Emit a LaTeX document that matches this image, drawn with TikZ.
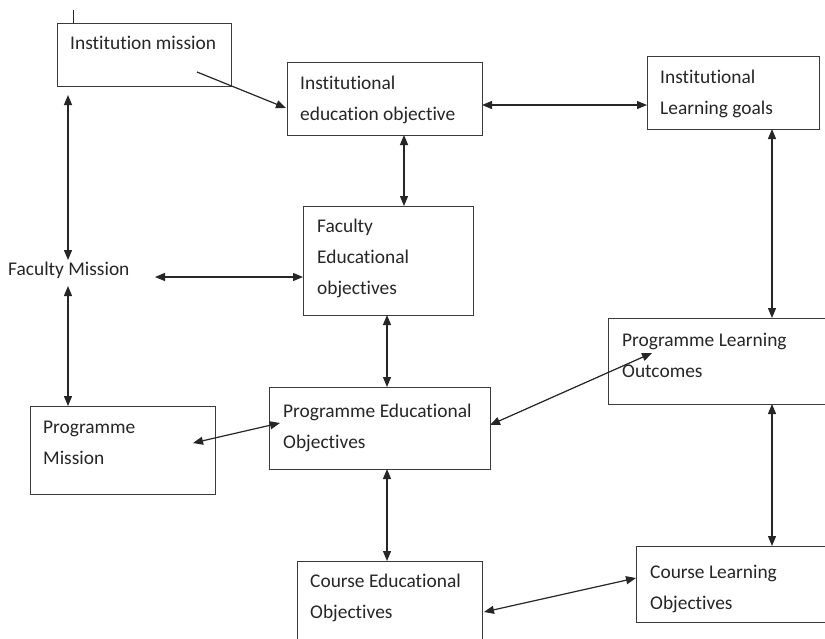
\documentclass[tikz,border=0pt]{standalone}
\usepackage{fontspec}
\setmainfont{Carlito}[Ligatures=NoCommon]
\usetikzlibrary{arrows.meta}
\definecolor{ink}{HTML}{262626}
\definecolor{edge}{HTML}{3A3A3A}
\begin{document}
\begin{tikzpicture}[x=1pt,y=-1pt,
  box/.style={draw=edge, line width=1.4pt, inner sep=0pt, anchor=north west},
  lbl/.style={anchor=base west, inner sep=0pt, align=left, text=ink, font=\fontsize{19.4}{31}\selectfont},
  link/.style={draw=ink, line width=1.2pt},
  both/.style={link, {Triangle[length=10pt,width=8pt]}-{Triangle[length=10pt,width=8pt]}},
  one/.style={link, -{Triangle[length=10pt,width=8pt]}}]
\clip (0,0) rectangle (825,638);
\fill[white] (0,0) rectangle (825,638);
% boxes
\node[box, minimum width=174pt, minimum height=63pt] (im) at (57,23) {};
\node[box, minimum width=195pt, minimum height=73pt] (iedo) at (287,62) {};
\node[box, minimum width=172pt, minimum height=73pt] (ilg) at (647,56) {};
\node[box, minimum width=170pt, minimum height=109pt] (fac) at (303,206) {};
\node[box, minimum width=230pt, minimum height=86pt] (plo) at (608,318) {};
\node[box, minimum width=185pt, minimum height=88pt] (pm) at (30,406) {};
\node[box, minimum width=221pt, minimum height=82pt] (peo) at (269,387) {};
\node[box, minimum width=185pt, minimum height=90pt] (ced) at (297,561) {};
\node[box, minimum width=200pt, minimum height=76pt] (clo) at (636,546) {};
% labels (anchored at the baseline of the last line)
\node[lbl] (tim) at (70,49) {Institution mission};
\node[lbl] (tiedo) at (300,120) {Institutional\\education objective};
\node[lbl] (tilg) at (660,114) {Institutional\\Learning goals};
\node[lbl] (tfac) at (317,294) {Faculty\\Educational\\objectives};
\node[lbl] (fm) at (8,275) {Faculty Mission};
\node[lbl] (tplo) at (622,377) {Programme Learning\\Outcomes};
\node[lbl] (tpm) at (43,464) {Programme\\Mission};
\node[lbl] (tpeo) at (283,448) {Programme Educational\\Objectives};
\node[lbl] (tced) at (310,618) {Course Educational\\Objectives};
\node[lbl] (tclo) at (650,609) {Course Learning\\Objectives};
% connector end points
\coordinate (tick1) at (73,10);
\coordinate (tick2) at (73,23);
\coordinate (a1s) at (197,72);   \coordinate (a1e) at (286,108);
\coordinate (a2s) at (482,105);  \coordinate (a2e) at (647,105);
\coordinate (a3s) at (404,135);  \coordinate (a3e) at (404,206);
\coordinate (a4s) at (772,129);  \coordinate (a4e) at (772,318);
\coordinate (a5s) at (68,95);    \coordinate (a5e) at (68,260);
\coordinate (a6s) at (68,286);   \coordinate (a6e) at (68,406);
\coordinate (a7s) at (155,277);  \coordinate (a7e) at (303,277);
\coordinate (a8s) at (387,315);  \coordinate (a8e) at (387,387);
\coordinate (a9s) at (193,443);  \coordinate (a9e) at (280,423);
\coordinate (a10s) at (490,425); \coordinate (a10e) at (652,353);
\coordinate (a11s) at (772,404); \coordinate (a11e) at (772,546);
\coordinate (a12s) at (387,469); \coordinate (a12e) at (387,561);
\coordinate (a13s) at (484,612); \coordinate (a13e) at (636,578);
% connectors
\draw[link, line width=0.9pt] (tick1) -- (tick2);
\draw[one] (a1s) -- (a1e);
\draw[both] (a2s) -- (a2e);
\draw[both] (a3s) -- (a3e);
\draw[both] (a4s) -- (a4e);
\draw[both] (a5s) -- (a5e);
\draw[both] (a6s) -- (a6e);
\draw[both] (a7s) -- (a7e);
\draw[both] (a8s) -- (a8e);
\draw[both] (a9s) -- (a9e);
\draw[both] (a10s) -- (a10e);
\draw[both] (a11s) -- (a11e);
\draw[both] (a12s) -- (a12e);
\draw[both] (a13s) -- (a13e);
\end{tikzpicture}
\end{document}
